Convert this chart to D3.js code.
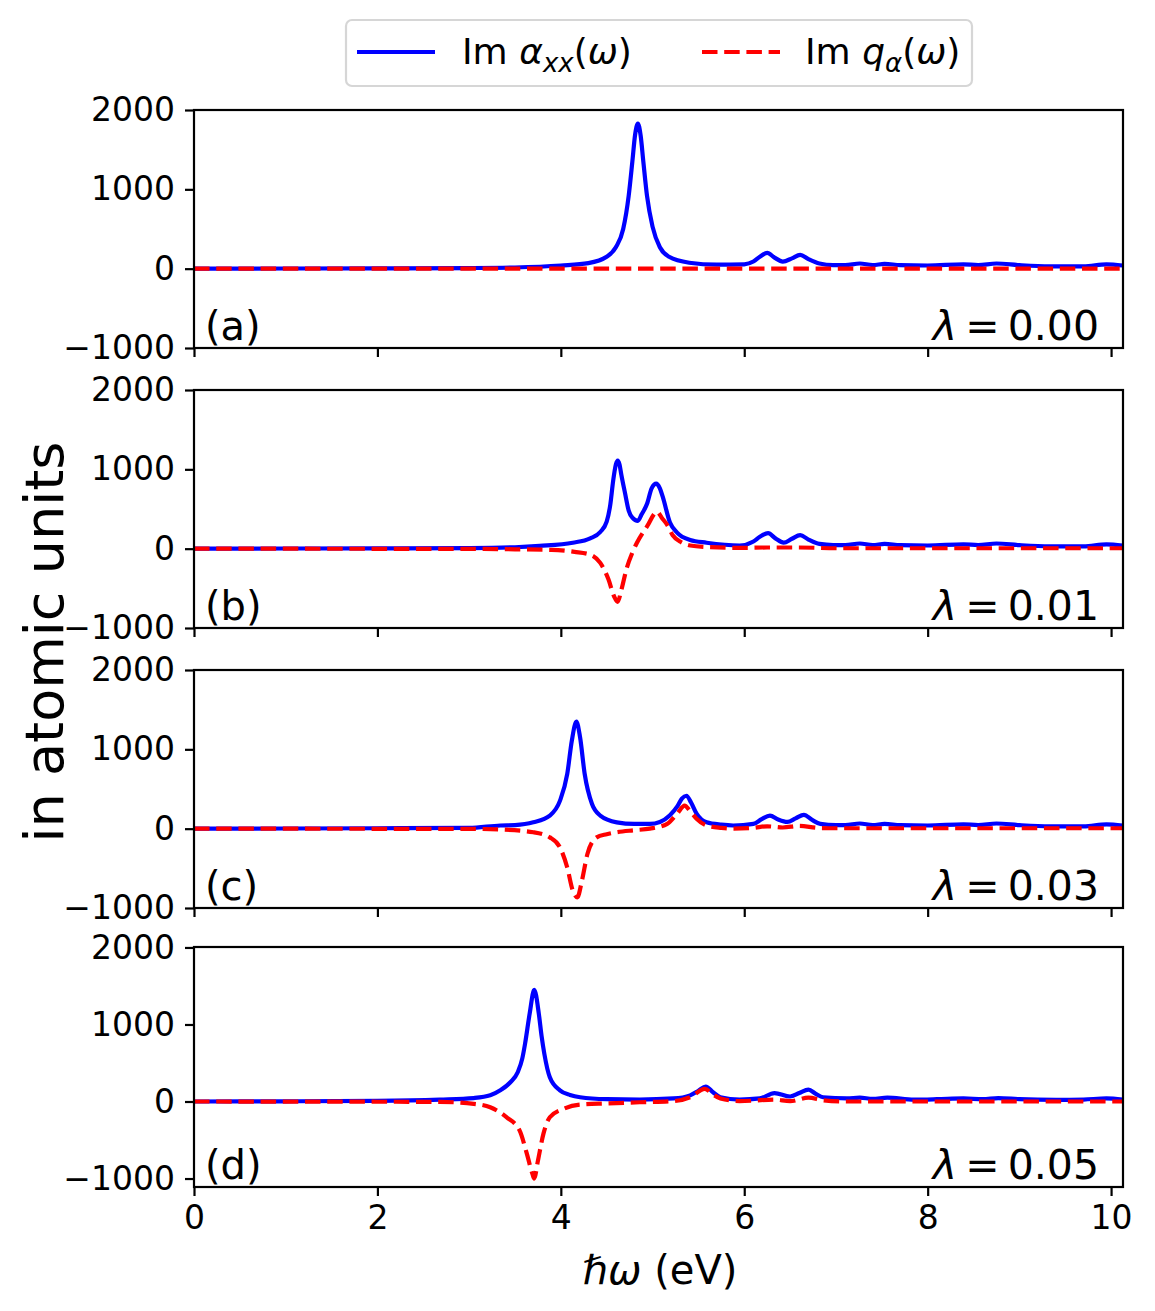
<!DOCTYPE html>
<html>
<head>
<meta charset="utf-8">
<script src="https://cdn.jsdelivr.net/npm/d3@7"></script>
<style>
  body { margin: 0; background: #fff; }
  svg { font-family: "DejaVu Sans", sans-serif; }
</style>
</head>
<body>
<svg id="chart" width="1155" height="1311"></svg>
<script>
// tick values and labels
const xTicks = [0, 2, 4, 6, 8, 10];
const yTicks = [-1000, 0, 1000, 2000];
const panelTags = ["(a)", "(b)", "(c)", "(d)"];
const lambdas = ["0.00", "0.01", "0.03", "0.05"];

// (a) lambda = 0.00
const xAlphaA = [0, 1, 2, 3, 3.5, 4.0, 4.3, 4.5, 4.6, 4.68, 4.74, 4.78, 4.81, 4.84, 4.87, 4.9, 4.94, 5.0, 5.08, 5.18, 5.4, 5.7, 6.0, 6.1, 6.17, 6.25, 6.33, 6.42, 6.52, 6.61, 6.7, 6.82, 6.97, 7.1, 7.26, 7.4, 7.53, 7.7, 8.0, 8.39, 8.55, 8.75, 9.0, 9.33, 9.7, 9.95, 10.13];
const alphaA = [0, 2, 4, 8, 15, 40, 70, 150, 270, 500, 920, 1350, 1690, 1830, 1680, 1345, 915, 530, 270, 150, 75, 50, 55, 90, 150, 200, 140, 90, 130, 175, 120, 65, 45, 45, 65, 45, 60, 45, 40, 55, 45, 65, 45, 30, 30, 55, 40];
const xQA = [0, 10.13];
const qA = [0, 0];

// (b) lambda = 0.01
const xAlphaB = [0, 1, 2, 3, 3.5, 3.77, 4.13, 4.32, 4.43, 4.5, 4.54, 4.57, 4.6, 4.62, 4.64, 4.66, 4.7, 4.74, 4.78, 4.84, 4.88, 4.94, 4.99, 5.04, 5.08, 5.11, 5.19, 5.27, 5.41, 5.59, 5.95, 6.1, 6.17, 6.26, 6.34, 6.43, 6.52, 6.61, 6.7, 6.82, 6.97, 7.1, 7.26, 7.4, 7.53, 7.7, 8.0, 8.39, 8.55, 8.75, 9.0, 9.33, 9.7, 9.95, 10.13];
const alphaB = [0, 2, 4, 8, 18, 35, 75, 130, 210, 340, 560, 850, 1060, 1110, 1060, 930, 700, 480, 390, 350, 430, 565, 760, 820, 760, 660, 330, 200, 110, 75, 40, 90, 150, 195, 130, 75, 125, 170, 115, 60, 45, 45, 65, 45, 60, 45, 40, 55, 45, 65, 45, 30, 30, 55, 40];
const xQB = [0, 3, 3.5, 3.9, 4.15, 4.32, 4.43, 4.52, 4.58, 4.62, 4.66, 4.72, 4.78, 4.83, 4.94, 5.05, 5.1, 5.16, 5.22, 5.3, 5.41, 5.6, 6.0, 6.25, 6.6, 7.0, 10.13];
const qB = [0, -3, -8, -15, -40, -75, -180, -390, -600, -670, -520, -240, -50, 75, 280, 465, 390, 300, 170, 90, 40, 20, 10, 15, 15, 5, 5];

// (c) lambda = 0.03
const xAlphaC = [0, 1, 2, 3, 3.34, 3.5, 3.7, 3.88, 3.99, 4.07, 4.12, 4.17, 4.21, 4.26, 4.34, 4.43, 4.61, 4.8, 4.97, 5.08, 5.19, 5.27, 5.32, 5.37, 5.42, 5.48, 5.59, 5.75, 5.88, 6.1, 6.19, 6.28, 6.37, 6.47, 6.56, 6.65, 6.74, 6.83, 7.0, 7.1, 7.26, 7.4, 7.53, 7.7, 8.0, 8.39, 8.55, 8.75, 9.0, 9.33, 9.7, 9.95, 10.13];
const alphaC = [0, 2, 5, 10, 40, 45, 80, 165, 350, 690, 1110, 1350, 1150, 690, 310, 165, 80, 60, 60, 85, 170, 280, 380, 415, 330, 190, 80, 50, 40, 60, 120, 165, 115, 85, 130, 175, 110, 60, 45, 45, 65, 45, 60, 45, 40, 55, 45, 65, 45, 30, 30, 55, 40];
const xQC = [0, 3, 3.34, 3.7, 3.88, 3.99, 4.07, 4.13, 4.18, 4.23, 4.29, 4.39, 4.5, 4.61, 4.8, 4.97, 5.16, 5.27, 5.35, 5.41, 5.48, 5.59, 5.75, 5.88, 6.1, 6.25, 6.42, 6.6, 6.8, 7.0, 10.13];
const qC = [0, -3, -10, -45, -110, -235, -490, -780, -865, -655, -320, -110, -70, -45, -20, 0, 60, 190, 290, 220, 125, 40, 10, 0, 10, 30, 15, 35, 10, 5, 5];

// (d) lambda = 0.05
const xAlphaD = [0, 1, 2, 2.68, 3.05, 3.23, 3.34, 3.45, 3.53, 3.58, 3.61, 3.66, 3.71, 3.76, 3.79, 3.82, 3.88, 3.99, 4.1, 4.21, 4.5, 4.86, 5.23, 5.41, 5.5, 5.58, 5.66, 5.74, 5.95, 6.17, 6.33, 6.5, 6.6, 6.7, 6.78, 6.86, 7.12, 7.26, 7.4, 7.56, 7.85, 8.1, 8.39, 8.6, 8.77, 9.0, 9.4, 9.7, 9.95, 10.13];
const alphaD = [0, 3, 8, 25, 45, 80, 145, 250, 380, 560, 750, 1140, 1450, 1140, 850, 620, 315, 145, 85, 55, 30, 25, 40, 80, 140, 195, 120, 55, 25, 40, 110, 65, 110, 155, 100, 55, 40, 50, 35, 50, 25, 30, 40, 30, 45, 30, 20, 25, 40, 25];
const xQD = [0, 2, 2.68, 3.05, 3.23, 3.41, 3.55, 3.63, 3.69, 3.71, 3.75, 3.81, 3.88, 4.03, 4.21, 4.5, 4.86, 5.23, 5.41, 5.57, 5.66, 5.74, 5.95, 6.33, 6.5, 6.7, 6.86, 7.1, 10.13];
const qD = [0, -3, -5, -30, -75, -205, -375, -680, -940, -1000, -770, -420, -205, -95, -40, -25, -10, 5, 55, 165, 90, 40, 5, 25, 5, 50, 15, 0, 0];

const panels = [
  { top: 110, bottom: 348, ymin: -1000, ymax: 2000, xa: xAlphaA, a: alphaA, xq: xQA, q: qA },
  { top: 390, bottom: 628, ymin: -1000, ymax: 2000, xa: xAlphaB, a: alphaB, xq: xQB, q: qB },
  { top: 670, bottom: 908, ymin: -1000, ymax: 2000, xa: xAlphaC, a: alphaC, xq: xQC, q: qC },
  { top: 947, bottom: 1187, ymin: -1110, ymax: 2006, xa: xAlphaD, a: alphaD, xq: xQD, q: qD },
];

const left = 194, right = 1123;
const svg = d3.select("#chart");

const x = d3.scaleLinear().domain([0, 10.13]).range([left, right]);

panels.forEach((p, i) => {
  const y = d3.scaleLinear().domain([p.ymin, p.ymax]).range([p.bottom, p.top]);

  svg.append("clipPath").attr("id", "clip" + i)
    .append("rect")
    .attr("x", left).attr("y", p.top)
    .attr("width", right - left).attr("height", p.bottom - p.top);

  const g = svg.append("g").attr("clip-path", `url(#clip${i})`);

  const line = d3.line()
    .x((d) => x(d[0]))
    .y((d) => y(d[1]))
    .curve(d3.curveMonotoneX);

  g.append("path")
    .datum(p.xa.map((v, k) => [v, p.a[k]]))
    .attr("d", line)
    .attr("fill", "none")
    .attr("stroke", "#0000ff")
    .attr("stroke-width", 4.2)
    .attr("stroke-linejoin", "round")
    .attr("stroke-linecap", "round");

  g.append("path")
    .datum(p.xq.map((v, k) => [v, p.q[k]]))
    .attr("d", line)
    .attr("fill", "none")
    .attr("stroke", "#ff0000")
    .attr("stroke-width", 4.2)
    .attr("stroke-dasharray", "15.5,6.7");

  // frame
  svg.append("rect")
    .attr("x", left).attr("y", p.top)
    .attr("width", right - left).attr("height", p.bottom - p.top)
    .attr("fill", "none").attr("stroke", "#000").attr("stroke-width", 2.2);

  // y axis
  const yAxis = d3.axisLeft(y).tickValues(yTicks).tickSize(9).tickPadding(10)
    .tickFormat((d) => (d < 0 ? "\u2212" + Math.abs(d) : d));
  const ya = svg.append("g").attr("transform", `translate(${left},0)`).call(yAxis);
  ya.select(".domain").remove();
  ya.selectAll("line").attr("stroke-width", 2.2);
  ya.selectAll("text").attr("font-size", 33).attr("font-family", "DejaVu Sans").attr("fill", "#000");

  // x axis
  const xAxis = d3.axisBottom(x).tickValues(xTicks).tickSize(9).tickPadding(10)
    .tickFormat(i === panels.length - 1 ? d3.format("d") : "");
  const xa = svg.append("g").attr("transform", `translate(0,${p.bottom})`).call(xAxis);
  xa.select(".domain").remove();
  xa.selectAll("line").attr("stroke-width", 2.2);
  xa.selectAll("text").attr("font-size", 33).attr("font-family", "DejaVu Sans").attr("fill", "#000");

  svg.append("text")
    .attr("x", 205).attr("y", p.bottom - 8)
    .attr("font-size", 40)
    .text(panelTags[i]);

  const lt = svg.append("text")
    .attr("x", 1099).attr("y", p.bottom - 8)
    .attr("font-size", 41)
    .attr("text-anchor", "end");
  lt.append("tspan").attr("font-style", "italic").text("\u03bb");
  lt.append("tspan").text("\u2009=\u20090." + lambdas[i].slice(2));
});

// axis labels
svg.append("text")
  .attr("transform", "translate(63,642) rotate(-90)")
  .attr("text-anchor", "middle")
  .attr("font-size", 54)
  .text("in atomic units");

const xl = svg.append("text")
  .attr("x", 660).attr("y", 1284)
  .attr("text-anchor", "middle")
  .attr("font-size", 40);
xl.append("tspan").attr("font-style", "italic").text("\u210f\u03c9");
xl.append("tspan").text(" (eV)");

// legend
const lg = svg.append("g");
lg.append("rect")
  .attr("x", 346).attr("y", 20).attr("width", 626).attr("height", 66)
  .attr("rx", 6).attr("fill", "#fff")
  .attr("stroke", "#d6d6d6").attr("stroke-width", 2.2);
lg.append("line")
  .attr("x1", 357).attr("x2", 435).attr("y1", 52).attr("y2", 52)
  .attr("stroke", "#0000ff").attr("stroke-width", 4.2);
lg.append("line")
  .attr("x1", 702).attr("x2", 780).attr("y1", 52).attr("y2", 52)
  .attr("stroke", "#ff0000").attr("stroke-width", 4.2)
  .attr("stroke-dasharray", "15.5,6.7");

const t1 = lg.append("text").attr("x", 462).attr("y", 64).attr("font-size", 36);
t1.append("tspan").text("Im ");
t1.append("tspan").attr("font-style", "italic").text("\u03b1");
t1.append("tspan").attr("font-style", "italic").attr("font-size", 26).attr("dy", 8).text("xx");
t1.append("tspan").attr("dy", -8).text("(");
t1.append("tspan").attr("font-style", "italic").text("\u03c9");
t1.append("tspan").text(")");

const t2 = lg.append("text").attr("x", 805).attr("y", 64).attr("font-size", 36);
t2.append("tspan").text("Im ");
t2.append("tspan").attr("font-style", "italic").text("q");
t2.append("tspan").attr("font-style", "italic").attr("font-size", 26).attr("dy", 8).text("\u03b1");
t2.append("tspan").attr("dy", -8).text("(");
t2.append("tspan").attr("font-style", "italic").text("\u03c9");
t2.append("tspan").text(")");
</script>
</body>
</html>
